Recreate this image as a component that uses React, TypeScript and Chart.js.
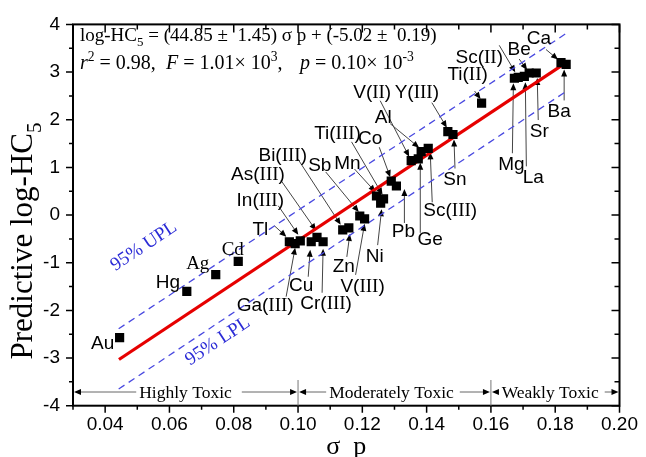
import React, { useEffect, useRef } from 'react';
import { Chart, registerables } from 'chart.js';

Chart.register(...registerables);

// ---------- data ----------
const elements = ['Au', 'Hg', 'Ag', 'Cd', 'Tl', 'Ga(III)', 'In(III)', 'Cu', 'As(III)', 'Cr(III)', 'Bi(III)', 'Zn', 'Sb', 'V(III)', 'Mn', 'Ni', 'Ti(III)', 'Co', 'Pb', 'V(II)', 'Ge', 'Al', 'Sc(III)', 'Y(III)', 'Sn', 'Ti(II)', 'Mg', 'Sc(II)', 'La', 'Be', 'Sr', 'Ca', 'Ba'];
const sigmaP = [0.0445, 0.0654, 0.0744, 0.0814, 0.0973, 0.0991, 0.1007, 0.1041, 0.1059, 0.1078, 0.1139, 0.1158, 0.1192, 0.1207, 0.1244, 0.1257, 0.1266, 0.1290, 0.1306, 0.1352, 0.1374, 0.1383, 0.1405, 0.1466, 0.1482, 0.1571, 0.1673, 0.1685, 0.1704, 0.1719, 0.1741, 0.1818, 0.1834];
const logHC5 = [-2.57, -1.60, -1.25, -0.97, -0.56, -0.60, -0.54, -0.56, -0.47, -0.56, -0.31, -0.27, -0.02, -0.08, 0.40, 0.25, 0.34, 0.71, 0.61, 1.14, 1.18, 1.33, 1.40, 1.75, 1.69, 2.35, 2.87, 2.89, 2.91, 2.98, 2.98, 3.20, 3.16];

const fitX = [0.0443, 0.1836];
const fitY = [-3.03, 3.21];
const uplX = [0.0442, 0.1834];
const uplY = [-2.385, 3.81];
const lplX = [0.0442, 0.1834];
const lplY = [-3.65, 2.595];

const xTickValues = [0.04, 0.06, 0.08, 0.10, 0.12, 0.14, 0.16, 0.18, 0.20];
const yTickValues = [-4, -3, -2, -1, 0, 1, 2, 3, 4];

const toxicBands = [
  { from: 0.03, to: 0.10, label: 'Highly Toxic' },
  { from: 0.10, to: 0.16, label: 'Moderately Toxic' },
  { from: 0.16, to: 0.20, label: 'Weakly Toxic' },
];

// ---------- annotation layout (pixel offsets relative to each point) ----------
// [labelDx, labelDy, arrowStartDx, arrowStartDy, arrowEndDx, arrowEndDy]
const labelLayout: Record<string, number[]> = {
  'Au': [-17, 4],
  'Hg': [-19, -10],
  'Ag': [-18, -13],
  'Cd': [-5.5, -13],
  'Tl': [-29, -14, -15, -16, -3, -5],
  'Ga(III)': [-30, 60, -9, 53, 0, 4],
  'In(III)': [-40, -42, -22, -35, -2, -6],
  'Cu': [-10, 42, -3, 35, -1, 8],
  'As(III)': [-59, -64, -36, -57, -1, -7],
  'Cr(III)': [3, 60, -1, 51, 0, 7],
  'Bi(III)': [-60, -76, -45, -71, -2, -5],
  'Zn': [-5, 37, -2, 29, 1, 6],
  'Sb': [-40, -52, -34, -44, -1, -4],
  'V(III)': [-2, 66, -9, 56, 0, 5],
  'Mn': [-29, -34, -22, -27, -1, -4],
  'Ni': [-6, 52, -3, 42, 1, 6],
  'Ti(III)': [-46, -67, -32, -57, -1, -4],
  'Co': [-21, -44, -12, -34, -1, -4],
  'Pb': [7, 44, 8, 37, 8, 3],
  'V(II)': [-39, -70, -31, -60, -2, -4],
  'Ge': [12, 79, 2, 74, 2, 4],
  'Al': [-38, -36, -31, -28, -2, -4],
  'Sc(III)': [22, 61, 4, 54, 2, 4],
  'Y(III)': [-31, -41, -16, -29, -1, -4],
  'Sn': [2, 43, 2, 34, 1, 5],
  'Ti(II)': [-14, -30, -7, -12, -1, -4],
  'Mg': [-3, 85, -2, 75, -1, 5],
  'Sc(II)': [-39, -21, -19, -32, -3, -5],
  'La': [9, 100, 2, 90, 1, 6],
  'Be': [-10, -25, -10, -14, -2, -3],
  'Sr': [3, 57, 2, 47, 1, 5],
  'Ca': [-22, -26, -15, -13, -3, -3],
  'Ba': [-7, 46, -2, 36, -2, 5],
};
const serifLabels = ['Ag', 'Cd'];

const SANS = '"Liberation Sans", Arial, sans-serif';
const SERIF = '"Liberation Serif", "Times New Roman", serif';
const BLUE = '#2b2bd6';

type Seg = { t: string; serif?: boolean; italic?: boolean; sub?: boolean; sup?: boolean };

function segFont(s: Seg, size: number) {
  const sz = s.sub || s.sup ? size * 0.68 : size;
  return `${s.italic ? 'italic ' : ''}${sz}px ${s.serif ? SERIF : SANS}`;
}

function drawRich(ctx: CanvasRenderingContext2D, segs: Seg[], x: number, y: number, size: number, align: 'left' | 'center') {
  let w = 0;
  for (const s of segs) {
    ctx.font = segFont(s, size);
    w += ctx.measureText(s.t).width;
  }
  let cx = align === 'center' ? x - w / 2 : x;
  ctx.textAlign = 'left';
  ctx.textBaseline = 'alphabetic';
  for (const s of segs) {
    ctx.font = segFont(s, size);
    const dy = s.sub ? size * 0.28 : s.sup ? -size * 0.4 : 0;
    ctx.fillText(s.t, cx, y + dy);
    cx += ctx.measureText(s.t).width;
  }
  return w;
}

function labelSegs(name: string): Seg[] {
  const m = name.match(/^([A-Za-z]+)\((I+)\)$/);
  if (m) return [{ t: m[1] + '(' }, { t: m[2], serif: true }, { t: ')' }];
  return [{ t: name, serif: serifLabels.includes(name) }];
}

function arrow(ctx: CanvasRenderingContext2D, x1: number, y1: number, x2: number, y2: number, color = '#444', head = 7) {
  const a = Math.atan2(y2 - y1, x2 - x1);
  ctx.strokeStyle = color;
  ctx.lineWidth = 1;
  ctx.beginPath();
  ctx.moveTo(x1, y1);
  ctx.lineTo(x2 - Math.cos(a) * head * 0.6, y2 - Math.sin(a) * head * 0.6);
  ctx.stroke();
  ctx.fillStyle = '#000';
  ctx.beginPath();
  ctx.moveTo(x2, y2);
  ctx.lineTo(x2 - head * Math.cos(a) + 3 * Math.sin(a), y2 - head * Math.sin(a) - 3 * Math.cos(a));
  ctx.lineTo(x2 - head * Math.cos(a) - 3 * Math.sin(a), y2 - head * Math.sin(a) + 3 * Math.cos(a));
  ctx.closePath();
  ctx.fill();
}

const annotPlugin = {
  id: 'annot',
  beforeDatasetsDraw(chart: any) {
    const ctx = chart.ctx as CanvasRenderingContext2D;
    const xs = chart.scales.x, ys = chart.scales.y;
    ctx.save();
    elements.forEach((name, i) => {
      const L = labelLayout[name];
      if (!L || L.length < 6) return;
      const px = xs.getPixelForValue(sigmaP[i]);
      const py = ys.getPixelForValue(logHC5[i]);
      arrow(ctx, px + L[2], py + L[3], px + L[4], py + L[5]);
    });
    ctx.restore();
  },
  afterDraw(chart: any) {
    const ctx = chart.ctx as CanvasRenderingContext2D;
    const xs = chart.scales.x, ys = chart.scales.y;
    const { left, right, top, bottom } = chart.chartArea;
    ctx.save();

    // frame
    ctx.strokeStyle = '#000';
    ctx.lineWidth = 2;
    ctx.strokeRect(left, top, right - left, bottom - top);

    // ticks
    ctx.lineWidth = 1.5;
    ctx.beginPath();
    for (let k = 3; k <= 20; k++) {
      const px = xs.getPixelForValue(k / 100);
      const major = k % 2 === 0;
      ctx.moveTo(px, bottom);
      ctx.lineTo(px, bottom + (major ? 7 : 4));
      ctx.moveTo(px, top);
      ctx.lineTo(px, top + (major ? 8 : 5));
    }
    for (let k = -8; k <= 8; k++) {
      const py = ys.getPixelForValue(k / 2);
      const major = k % 2 === 0;
      ctx.moveTo(left, py);
      ctx.lineTo(left - (major ? 7 : 4), py);
      ctx.moveTo(right, py);
      ctx.lineTo(right - (major ? 8 : 5), py);
    }
    ctx.stroke();

    // element labels
    ctx.fillStyle = '#000';
    elements.forEach((name, i) => {
      const L = labelLayout[name];
      if (!L) return;
      const px = xs.getPixelForValue(sigmaP[i]);
      const py = ys.getPixelForValue(logHC5[i]);
      drawRich(ctx, labelSegs(name), px + L[0], py + L[1] + 7, 19, 'center');
    });

    // equation
    ctx.fillStyle = '#000';
    drawRich(ctx, [
      { t: 'log-HC', serif: true }, { t: '5', serif: true, sub: true },
      { t: ' = (44.85 \u00b1  1.45) \u03c3 p + (-5.02 \u00b1  0.19)', serif: true },
    ], 80, 41, 19, 'left');
    drawRich(ctx, [
      { t: 'r', serif: true, italic: true }, { t: '2', serif: true, sup: true },
      { t: ' = 0.98,', serif: true },
    ], 80, 69, 20, 'left');
    drawRich(ctx, [
      { t: 'F', serif: true, italic: true },
      { t: ' = 1.01\u00d7 10', serif: true }, { t: '3', serif: true, sup: true },
      { t: ',', serif: true },
    ], 166, 69, 20, 'left');
    drawRich(ctx, [
      { t: 'p', serif: true, italic: true },
      { t: ' = 0.10\u00d7 10', serif: true }, { t: '-3', serif: true, sup: true },
    ], 300, 69, 20, 'left');

    // axis titles
    ctx.save();
    ctx.translate(22, 241);
    ctx.rotate(-Math.PI / 2);
    drawRich(ctx, [{ t: 'Predictive log-HC', serif: true }, { t: '5', serif: true, sub: true }], 0, 10, 31, 'center');
    ctx.restore();
    drawRich(ctx, [{ t: '\u03c3  p', serif: true }], (left + right) / 2, 454, 26, 'center');

    // UPL / LPL text
    const ang = Math.atan2(
      ys.getPixelForValue(fitY[1]) - ys.getPixelForValue(fitY[0]),
      xs.getPixelForValue(fitX[1]) - xs.getPixelForValue(fitX[0])
    );
    ctx.fillStyle = BLUE;
    ctx.save();
    ctx.translate(143, 245);
    ctx.rotate(ang);
    drawRich(ctx, [{ t: '95% UPL', serif: true }], 0, 6.5, 19, 'center');
    ctx.restore();
    ctx.save();
    ctx.translate(217, 340);
    ctx.rotate(ang);
    drawRich(ctx, [{ t: '95% LPL', serif: true }], 0, 6.5, 19, 'center');
    ctx.restore();

    // toxicity band
    const by = 392;
    const offsets = [0, -3, -5];
    toxicBands.forEach((b, idx) => {
      const x1 = xs.getPixelForValue(b.from);
      const x2 = xs.getPixelForValue(b.to);
      ctx.font = `17.5px ${SERIF}`;
      const tw = ctx.measureText(b.label).width;
      const cx = (x1 + x2) / 2 + offsets[idx];
      ctx.fillStyle = '#000';
      drawRich(ctx, [{ t: b.label, serif: true }], cx, by + 6, 17.5, 'center');
      arrow(ctx, cx - tw / 2 - 3, by, x1 + 1, by, '#666', 7);
      arrow(ctx, cx + tw / 2 + (idx === 0 ? 10 : 6), by, x2 - 1, by, '#666', 7);
    });
    ctx.strokeStyle = '#777';
    ctx.lineWidth = 1;
    ctx.beginPath();
    [0.10, 0.16].forEach((v) => {
      const px = xs.getPixelForValue(v);
      ctx.moveTo(px, by - 12);
      ctx.lineTo(px, bottom);
    });
    ctx.stroke();

    ctx.restore();
  },
};

export default function App() {
  const ref = useRef<HTMLCanvasElement>(null);
  useEffect(() => {
    if (!ref.current) return;
    const chart = new Chart(ref.current, {
      type: 'scatter',
      data: {
        datasets: [
          {
            data: sigmaP.map((x, i) => ({ x, y: logHC5[i] })),
            pointStyle: 'rect',
            pointRadius: 6.5,
            backgroundColor: '#000',
            borderColor: '#000',
            borderWidth: 0,
            showLine: false,
          },
          {
            data: fitX.map((x, i) => ({ x, y: fitY[i] })),
            showLine: true,
            pointRadius: 0,
            borderColor: '#e60000',
            borderWidth: 3.2,
          },
          {
            data: uplX.map((x, i) => ({ x, y: uplY[i] })),
            showLine: true,
            pointRadius: 0,
            borderColor: '#4a4ae0',
            borderWidth: 1.3,
            borderDash: [7, 5],
          },
          {
            data: lplX.map((x, i) => ({ x, y: lplY[i] })),
            showLine: true,
            pointRadius: 0,
            borderColor: '#4a4ae0',
            borderWidth: 1.3,
            borderDash: [7, 5],
          },
        ],
      },
      options: {
        responsive: false,
        animation: false,
        devicePixelRatio: 1,
        layout: { padding: { top: 20.7, right: 22, left: 0, bottom: 0 } },
        plugins: { legend: { display: false }, tooltip: { enabled: false } },
        scales: {
          x: {
            type: 'linear',
            min: 0.03,
            max: 0.2,
            grid: { display: false, drawTicks: false },
            border: { display: false },
            afterFit: (s: any) => { s.height = 51.3; },
            afterBuildTicks: (s: any) => { s.ticks = xTickValues.map((v) => ({ value: v })); },
            ticks: {
              autoSkip: false,
              maxRotation: 0,
              padding: 8,
              color: '#000',
              font: { family: SANS, size: 19 },
              callback: (v: any) => Number(v).toFixed(2),
            },
          },
          y: {
            type: 'linear',
            min: -4,
            max: 4,
            grid: { display: false, drawTicks: false },
            border: { display: false },
            afterFit: (s: any) => { s.width = 73; },
            afterBuildTicks: (s: any) => { s.ticks = yTickValues.map((v) => ({ value: v })); },
            ticks: {
              padding: 13,
              color: '#000',
              font: { family: SANS, size: 19 },
              callback: (v: any) => String(v),
            },
          },
        },
      },
      plugins: [annotPlugin],
    } as any);
    return () => chart.destroy();
  }, []);
  return (
    <div style={{ position: 'absolute', left: 0, top: 0, width: 646, height: 457, background: '#fff' }}>
      <canvas ref={ref} width={646} height={457} style={{ width: 646, height: 457, display: 'block' }} />
    </div>
  );
}
